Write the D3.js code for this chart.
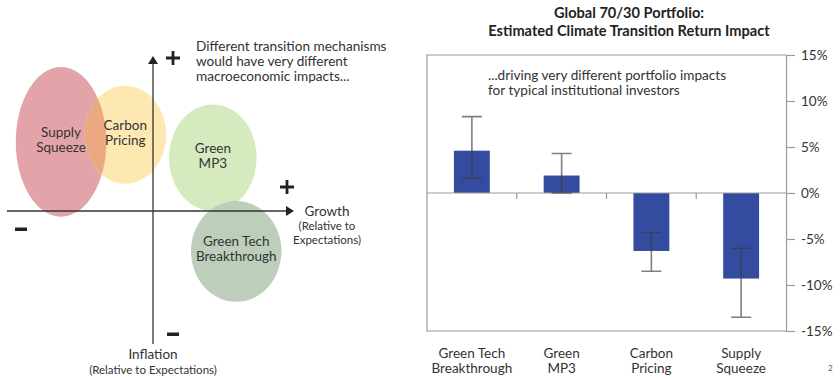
<!DOCTYPE html>
<html><head><meta charset="utf-8">
<script src="https://cdn.jsdelivr.net/npm/d3@7"></script>
<style>
body{margin:0;background:#fff;}
svg{font-family:Lato,"Open Sans",sans-serif;}
</style></head>
<body><svg id="c" width="840" height="379"></svg>
<script>
// ---- Right chart data ----
const categories = [["Green Tech","Breakthrough"],["Green","MP3"],["Carbon","Pricing"],["Supply","Squeeze"]];
const values = [4.6, 1.9, -6.3, -9.3];
const errLow = [1.6, 0.0, -8.5, -13.5];
const errHigh = [8.3, 4.3, -4.3, -6.0];
const yTicks = [15, 10, 5, 0, -5, -10, -15];
// ---- Left diagram data (growth, inflation in axis units -1..1) ----
const regimes = [["Supply","Squeeze"],["Carbon","Pricing"],["Green","MP3"],["Green Tech","Breakthrough"]];
const regimeGrowth = [-0.63, -0.19, 0.41, 0.57];
const regimeInflation = [0.48, 0.53, 0.37, -0.28];
const regimeRx = [0.31, 0.28, 0.30, 0.31];
const regimeRy = [0.52, 0.34, 0.37, 0.35];
const regimeColors = ["#e3a4a9","#fde8b2","#d6eabf","#bdcfbb"];
const overlapColor = "#eca981";

const svg = d3.select("#c");
const txt = "#333";

// ===== Left diagram =====
const gx = d3.scaleLinear().domain([-1,1]).range([7, 299]);
const gy = d3.scaleLinear().domain([-1,1]).range([355, 67]);
const L = svg.append("g");
const ell = i => ({cx: gx(regimeGrowth[i]), cy: gy(regimeInflation[i]),
                   rx: gx(regimeRx[i]) - gx(0), ry: gy(0) - gy(regimeRy[i])});
regimes.forEach((r,i)=>{
  const e = ell(i);
  L.append("ellipse").attr("cx",e.cx).attr("cy",e.cy).attr("rx",e.rx).attr("ry",e.ry)
    .attr("fill", regimeColors[i]);
});
// overlap of Supply Squeeze and Carbon Pricing
const e0 = ell(0), e1 = ell(1);
svg.append("defs").append("clipPath").attr("id","clipSS")
  .append("ellipse").attr("cx",e0.cx).attr("cy",e0.cy).attr("rx",e0.rx).attr("ry",e0.ry);
L.append("ellipse").attr("cx",e1.cx).attr("cy",e1.cy).attr("rx",e1.rx).attr("ry",e1.ry)
  .attr("fill",overlapColor).attr("clip-path","url(#clipSS)");

const ox = 153, oy = 211;
L.append("line").attr("x1",7).attr("x2",286).attr("y1",oy).attr("y2",oy).attr("stroke","#333").attr("stroke-width",1.3);
L.append("path").attr("d",`M286,${oy-5}L294,${oy}L286,${oy+5}Z`).attr("fill","#222");
L.append("line").attr("x1",ox).attr("x2",ox).attr("y1",64).attr("y2",344).attr("stroke","#333").attr("stroke-width",1.3);
L.append("path").attr("d",`M${ox-5},64L${ox},56L${ox+5},64Z`).attr("fill","#222");
function plus(x,y){L.append("path").attr("d",`M${x-7},${y}H${x+7}M${x},${y-7}V${y+7}`).attr("stroke","#222").attr("stroke-width",2.8);}
function minus(x,y){L.append("rect").attr("x",x-6).attr("y",y-1.5).attr("width",12).attr("height",3.5).attr("fill","#222");}
plus(173,58); plus(287,187); minus(21,229); minus(173,334);
regimes.forEach((r,i)=>{
  const t = L.append("text").attr("text-anchor","middle").attr("font-size",13.5).attr("fill",txt);
  const e = ell(i);
  r.forEach((s,j)=>t.append("tspan").attr("x",e.cx).attr("y",e.cy - 5 + j*15).text(s));
});
const note = L.append("text").attr("font-size",13.6).attr("fill",txt);
["Different transition mechanisms","would have very different","macroeconomic impacts..."].forEach((s,j)=>
  note.append("tspan").attr("x",196).attr("y",51+j*14.8).text(s));
const gl = L.append("text").attr("text-anchor","middle").attr("fill",txt);
gl.append("tspan").attr("x",327).attr("y",216).attr("font-size",13.5).text("Growth");
gl.append("tspan").attr("x",327).attr("y",230).attr("font-size",11.5).text("(Relative to");
gl.append("tspan").attr("x",327).attr("y",244).attr("font-size",11.5).text("Expectations)");
const il = L.append("text").attr("text-anchor","middle").attr("fill",txt);
il.append("tspan").attr("x",153).attr("y",359).attr("font-size",13.5).text("Inflation");
il.append("tspan").attr("x",153).attr("y",374).attr("font-size",11.5).text("(Relative to Expectations)");

// ===== Right chart =====
const pLeft = 427, pRight = 786, pTop = 55, pBottom = 331;
const x = d3.scaleBand().domain(d3.range(categories.length)).range([pLeft,pRight]).paddingInner(0.6).paddingOuter(0.3);
const y = d3.scaleLinear().domain([-15,15]).range([pBottom, pTop]);
const R = svg.append("g");
const grey = "#9a9a9a";
R.append("path").attr("d",`M${pRight},${pTop}H${pLeft}V${pBottom}H${pRight}`).attr("fill","none").attr("stroke",grey).attr("stroke-width",1.2);
const ax = R.append("g").attr("transform",`translate(${pRight},0)`)
  .call(d3.axisRight(y).tickValues(yTicks).tickSize(9).tickPadding(6).tickFormat(d=>d+"%"));
ax.select(".domain").attr("stroke",grey).attr("stroke-width",1.2);
ax.selectAll(".tick line").attr("stroke",grey).attr("stroke-width",1.2);
ax.selectAll("text").attr("font-size",13.5).attr("fill",txt).attr("font-family","Lato,sans-serif");
R.selectAll("rect.bar").data(values).join("rect").attr("class","bar")
  .attr("x",(d,i)=>x(i)).attr("width",x.bandwidth())
  .attr("y",d=>y(Math.max(0,d))).attr("height",d=>Math.abs(y(d)-y(0)))
  .attr("fill","#344ca0");
R.append("line").attr("x1",pLeft).attr("x2",pRight).attr("y1",y(0)).attr("y2",y(0)).attr("stroke",grey).attr("stroke-width",1.2);
d3.range(1,categories.length).forEach(k=>{
  const sx = pLeft + (pRight-pLeft)*k/categories.length;
  R.append("line").attr("x1",sx).attr("x2",sx).attr("y1",y(0)).attr("y2",y(0)+6).attr("stroke",grey).attr("stroke-width",1.2);
});
values.forEach((v,i)=>{
  const cx = x(i)+x.bandwidth()/2;
  const g = R.append("g").attr("stroke","#3a3a3a").attr("stroke-opacity",0.65).attr("stroke-width",1.6).attr("fill","none");
  g.append("path").attr("d",`M${cx},${y(errHigh[i])}V${y(errLow[i])}M${cx-10},${y(errHigh[i])}H${cx+10}M${cx-10},${y(errLow[i])}H${cx+10}`);
});
categories.forEach((c,i)=>{
  const t = R.append("text").attr("text-anchor","middle").attr("font-size",13.5).attr("fill",txt);
  c.forEach((s,j)=>t.append("tspan").attr("x",x(i)+x.bandwidth()/2).attr("y",358+j*15).text(s));
});
const title = R.append("text").attr("text-anchor","middle").attr("font-size",14.6).attr("font-weight","bold").attr("fill","#222");
title.append("tspan").attr("x",629).attr("y",18).text("Global 70/30 Portfolio:");
title.append("tspan").attr("x",629).attr("y",36).text("Estimated Climate Transition Return Impact");
const note2 = R.append("text").attr("font-size",13.6).attr("fill",txt);
["...driving very different portfolio impacts","for typical institutional investors"].forEach((s,j)=>
  note2.append("tspan").attr("x",488).attr("y",80+j*14.8).text(s));
R.append("text").attr("x",828).attr("y",371).attr("font-size",8).attr("fill","#555").text("2");
</script></body></html>
